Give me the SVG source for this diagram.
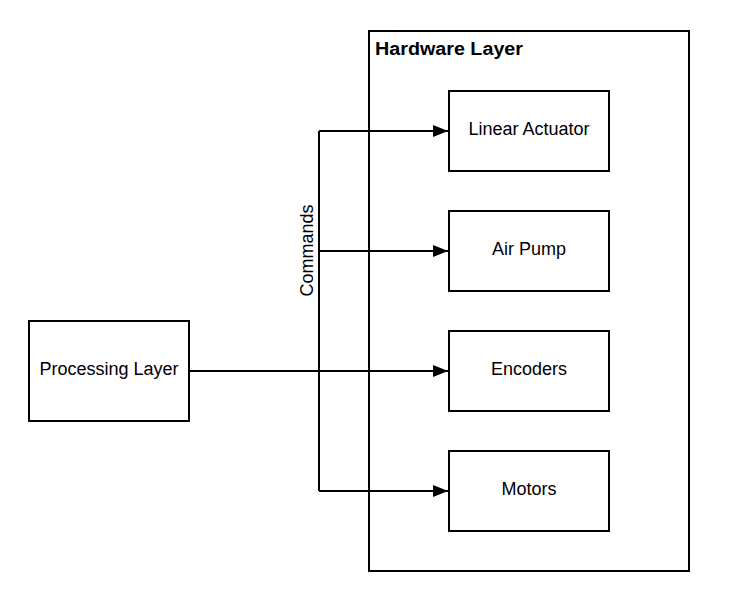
<svg xmlns="http://www.w3.org/2000/svg" width="737" height="607" viewBox="0 0 737 607">
<defs>
<style>
.box{fill:#fff;stroke:#000;stroke-width:2}
.lbl{font-family:"Liberation Sans",Arial,sans-serif;font-size:18px;fill:#000;text-anchor:middle}
.title{font-family:"Liberation Sans",Arial,sans-serif;font-size:18px;font-weight:bold;fill:#000}
.conn{fill:none;stroke:#000;stroke-width:2}
</style>
<marker id="arr" markerWidth="15" markerHeight="12" refX="15" refY="6" orient="auto" markerUnits="userSpaceOnUse">
<path d="M0,0 L15,6 L0,12 Z" fill="#000"/>
</marker>
</defs>
<rect width="737" height="607" fill="#fff"/>
<g id="hardware-layer">
<rect class="box" x="369" y="31" width="320" height="540"/>
<text class="title" x="375" y="54.5" textLength="148" lengthAdjust="spacingAndGlyphs">Hardware Layer</text>
</g>
<g id="processing-layer">
<rect class="box" x="29" y="321" width="160" height="100"/>
<text class="lbl" x="109" y="374.5">Processing Layer</text>
</g>
<g id="linear-actuator">
<rect class="box" x="449" y="91" width="160" height="80"/>
<text class="lbl" x="529" y="134.5">Linear Actuator</text>
</g>
<g id="air-pump">
<rect class="box" x="449" y="211" width="160" height="80"/>
<text class="lbl" x="529" y="254.5">Air Pump</text>
</g>
<g id="encoders">
<rect class="box" x="449" y="331" width="160" height="80"/>
<text class="lbl" x="529" y="374.5">Encoders</text>
</g>
<g id="motors">
<rect class="box" x="449" y="451" width="160" height="80"/>
<text class="lbl" x="529" y="494.5">Motors</text>
</g>
<g id="connectors">
<path class="conn" d="M189,371 L448,371" marker-end="url(#arr)"/>
<path class="conn" d="M319,131 L319,491"/>
<path class="conn" d="M319,131 L448,131" marker-end="url(#arr)"/>
<path class="conn" d="M319,251 L448,251" marker-end="url(#arr)"/>
<path class="conn" d="M319,491 L448,491" marker-end="url(#arr)"/>
<text class="lbl" transform="translate(312.5,250.5) rotate(-90)" x="0" y="0">Commands</text>
</g>
</svg>
